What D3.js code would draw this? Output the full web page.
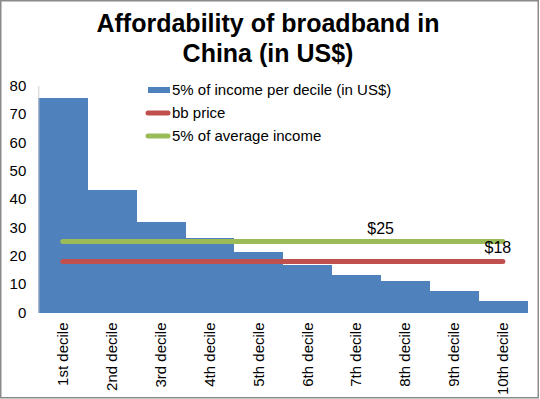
<!DOCTYPE html>
<html>
<head>
<meta charset="utf-8">
<script src="https://cdn.jsdelivr.net/npm/d3@7/dist/d3.min.js"></script>
<style>
  body { margin: 0; background: #fff; }
  svg { display: block; font-family: "Liberation Sans", Arial, sans-serif; }
</style>
</head>
<body>
<svg id="chart" width="540" height="399"></svg>
<script>
// Chart data
const deciles = ["1st decile", "2nd decile", "3rd decile", "4th decile", "5th decile",
    "6th decile", "7th decile", "8th decile", "9th decile", "10th decile"];
const incomeShare = [75.7, 43.2, 32.0, 26.4, 21.2, 16.8, 13.2, 11.2, 7.5, 4.2];
const bbPrice = [18, 18, 18, 18, 18, 18, 18, 18, 18, 18];
const avgIncomeShare = [25, 25, 25, 25, 25, 25, 25, 25, 25, 25];
const yTicks = [0, 10, 20, 30, 40, 50, 60, 70, 80];
const titleLines = ["Affordability of broadband in", "China (in US$)"];
const legendLabels = ["5% of income per decile (in US$)", "bb price", "5% of average income"];

const colors = { bar: "#4f81bd", bb: "#c0504d", avg: "#9bbb59" };

const svg = d3.select("svg#chart");
const width = +svg.attr("width");
const height = +svg.attr("height");

// outer frame
svg.append("rect")
    .attr("x", 0.75).attr("y", 0.75)
    .attr("width", width - 2.5).attr("height", height - 2)
    .attr("fill", "none")
    .attr("stroke", "#8a8a8a")
    .attr("stroke-width", 1.5);

// title
svg.append("text")
    .attr("x", 268)
    .attr("text-anchor", "middle")
    .style("font-size", "25px")
    .style("font-weight", "bold")
    .selectAll("tspan")
    .data(titleLines)
    .enter()
    .append("tspan")
    .attr("x", 268)
    .attr("y", (d, i) => 32 + i * 30)
    .text(d => d);

// scales
const x = d3.scaleBand()
    .domain(deciles)
    .range([38.3, 527.3])
    .padding(0);

const y = d3.scaleLinear()
    .domain([0, 80])
    .range([312.5, 85.5]);

// bars (crisp edges so neighbouring bars join without seams)
svg.append("g")
    .attr("shape-rendering", "crispEdges")
    .selectAll("rect")
    .data(incomeShare)
    .enter()
    .append("rect")
    .attr("x", (d, i) => x(deciles[i]))
    .attr("y", d => y(d))
    .attr("width", x.bandwidth() + 0.5)
    .attr("height", d => y(0) - y(d))
    .attr("fill", colors.bar);

// y axis
const yAxis = svg.append("g")
    .attr("transform", "translate(" + x.range()[0] + ",0)")
    .call(d3.axisLeft(y).tickValues(yTicks).tickSize(0).tickPadding(12));
yAxis.select(".domain").attr("stroke", "#d0d0d0");
yAxis.selectAll("text")
    .style("font-size", "15px")
    .style("font-family", "Liberation Sans, Arial, sans-serif")
    .attr("fill", "#000");

// x axis
const xAxis = svg.append("g")
    .attr("transform", "translate(0," + y(0) + ")")
    .call(d3.axisBottom(x).tickSize(0));
xAxis.select(".domain").remove();
xAxis.selectAll("text")
    .style("font-size", "15px")
    .style("font-family", "Liberation Sans, Arial, sans-serif")
    .attr("fill", "#000")
    .attr("text-anchor", "end")
    .attr("transform", "rotate(-90)")
    .attr("x", -10)
    .attr("y", 0)
    .attr("dy", "0.35em");

// lines
const line = d3.line()
    .x((d, i) => x(deciles[i]) + x.bandwidth() / 2)
    .y(d => y(d));

[[avgIncomeShare, colors.avg], [bbPrice, colors.bb]].forEach(([values, color]) => {
    svg.append("path")
        .datum(values)
        .attr("d", line)
        .attr("fill", "none")
        .attr("stroke", color)
        .attr("stroke-width", 5)
        .attr("stroke-linecap", "round");
});

// value labels
svg.append("text")
    .attr("x", x(deciles[7]))
    .attr("y", y(avgIncomeShare[7]) - 8)
    .attr("text-anchor", "middle")
    .style("font-size", "16px")
    .text("$" + avgIncomeShare[7]);

svg.append("text")
    .attr("x", x(deciles[9]) + x.bandwidth() / 2 - 5)
    .attr("y", y(bbPrice[9]) - 8)
    .attr("text-anchor", "middle")
    .style("font-size", "16px")
    .text("$" + bbPrice[9]);

// legend
const legend = svg.append("g");
const legendY = [90, 113, 136];

legend.append("rect")
    .attr("x", 148).attr("y", legendY[0] - 3)
    .attr("width", 22).attr("height", 6)
    .attr("fill", colors.bar);

[colors.bb, colors.avg].forEach((c, i) => {
    legend.append("line")
        .attr("x1", 148).attr("x2", 168)
        .attr("y1", legendY[i + 1]).attr("y2", legendY[i + 1])
        .attr("stroke", c)
        .attr("stroke-width", 5)
        .attr("stroke-linecap", "round");
});

legend.selectAll("text")
    .data(legendLabels)
    .enter()
    .append("text")
    .attr("x", 172)
    .attr("y", (d, i) => legendY[i])
    .attr("dy", "0.35em")
    .style("font-size", "15px")
    .text(d => d);
</script>
</body>
</html>
